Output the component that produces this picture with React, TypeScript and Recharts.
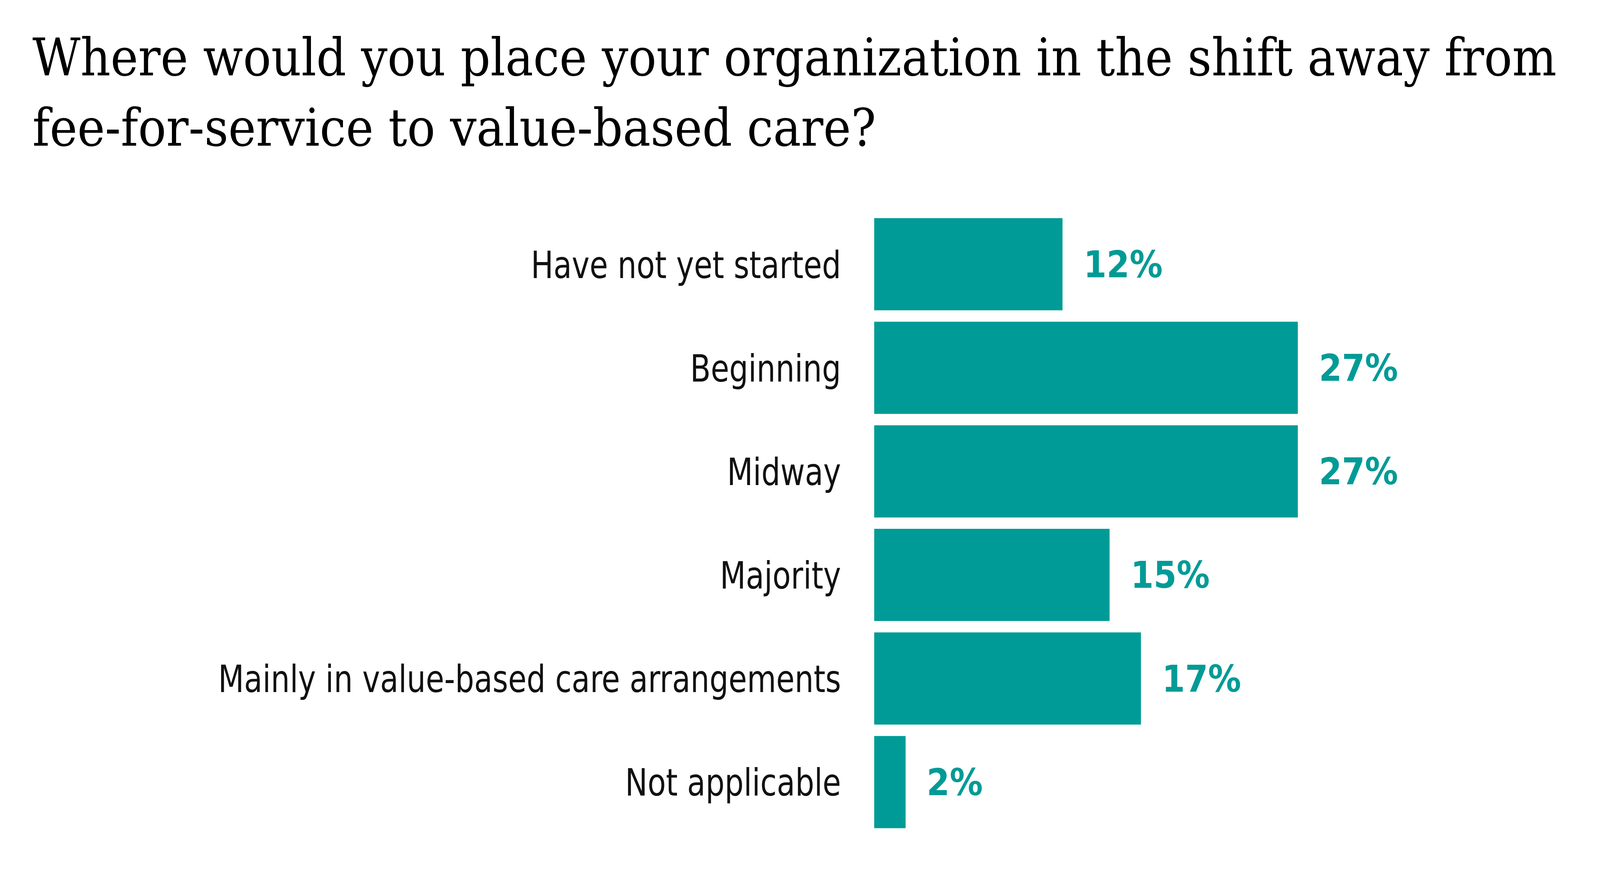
import { BarChart, Bar, XAxis, YAxis, LabelList } from "recharts";

const TEAL = "#009B96";

const stages = [
  "Have not yet started",
  "Beginning",
  "Midway",
  "Majority",
  "Mainly in value-based care arrangements",
  "Not applicable",
];
const shares = [12, 27, 27, 15, 17, 2];

const titleLines = [
  "Where would you place your organization in the shift away from",
  "fee-for-service to value-based care?",
];

const data = stages.map((stage, i) => ({ stage, share: shares[i] }));

const LABEL_FONT = "'DejaVu Sans Condensed', 'DejaVu Sans', sans-serif";

function StageTick(props: any) {
  const { x, y, payload } = props;
  return (
    <text
      transform={`translate(${x},${y + 35}) scale(0.88,1)`}
      textAnchor="end"
      fill="#111"
      fontSize={97}
      fontFamily={LABEL_FONT}
    >
      {payload.value}
    </text>
  );
}

export default function App() {
  return (
    <div style={{ position: "relative", width: 4333, height: 2266, background: "#fff" }}>
      <style>{`body{margin:0}`}</style>
      <svg width={4333} height={420} style={{ position: "absolute", left: 0, top: 0 }}>
        {titleLines.map((line, i) => (
          <text
            key={i}
            x={83}
            y={193 + i * 180}
            fontSize={133}
            fontFamily="'DejaVu Serif Condensed', 'DejaVu Serif', serif"
            fill="#000"
          >
            {line}
          </text>
        ))}
      </svg>
      <div style={{ position: "absolute", left: 0, top: 0 }}>
        <BarChart
          width={4333}
          height={2266}
          data={data}
          layout="vertical"
          margin={{ top: 544, right: 890, bottom: 131, left: 0 }}
          barCategoryGap="5.5%"
        >
          <XAxis type="number" domain={[0, 30]} hide />
          <YAxis
            type="category"
            dataKey="stage"
            width={2238}
            axisLine={false}
            tickLine={false}
            tickSize={0}
            tickMargin={85}
            tick={<StageTick />}
            interval={0}
          />
          <Bar dataKey="share" fill={TEAL} isAnimationActive={false}>
            <LabelList
              dataKey="share"
              position="right"
              offset={54}
              formatter={(v: any) => `${v}%`}
              fill={TEAL}
              fontSize={94}
              fontWeight="bold"
              fontFamily="'DejaVu Sans Condensed', 'DejaVu Sans', sans-serif"
            />
          </Bar>
        </BarChart>
      </div>
    </div>
  );
}
